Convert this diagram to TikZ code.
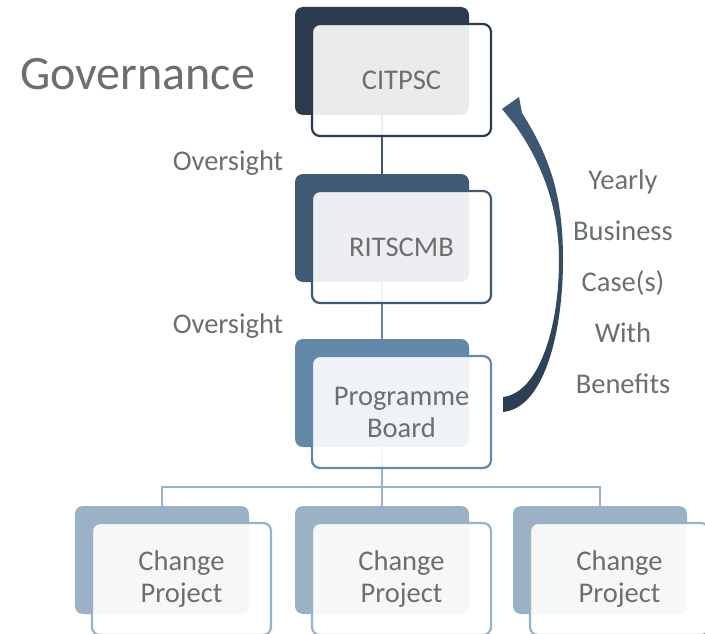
\documentclass[tikz,border=0pt]{standalone}
\usepackage{fontspec}
\setmainfont{Carlito}
\usetikzlibrary{backgrounds}
\definecolor{citpscBlue}{HTML}{2A3B4C}
\definecolor{ritsBlue}{HTML}{405A74}
\definecolor{progBlue}{HTML}{6488AA}
\definecolor{changeBlue}{HTML}{9BB1C6}
\definecolor{textGray}{HTML}{6E6E6E}
\definecolor{arrowBlue}{HTML}{2C3E51}
\definecolor{arrowTop}{HTML}{3F5B78}

\begin{document}
\begin{tikzpicture}
[x=1pt,y=-1pt,%
  backDecorate/.style={rectangle,rounded corners=8pt,minimum width=174pt,minimum height=108pt,inner sep=0pt,fill=#1},%
  frontDecorate/.style={rectangle,rounded corners=8pt,minimum width=179pt,minimum height=112pt,inner sep=0pt,draw=#1,line width=2.2pt,fill=white,fill opacity=0.9,text opacity=1,text=textGray,align=center,font=\fontsize{28.5}{32}\selectfont},%
  lineDecorate/.style={-,line width=2pt,draw=#1},%
  labelDecorate/.style={text=textGray,inner sep=0pt,font=\fontsize{28.5}{32}\selectfont}]
\useasboundingbox (0,0) rectangle (705,634);
%% governance chain
\foreach \name/\y/\col/\txt in {
  citpsc/61/citpscBlue/CITPSC, rits/228/ritsBlue/RITSCMB,
  prog/393/progBlue/{Programme\\Board}}
{
  \node[backDecorate=\col] (\name-back) at (382,\y) {};
  \node[frontDecorate=\col] (\name) at ([shift={(19.5,19)}]\name-back.center) {\txt};
}
%% change projects
\foreach \i/\x in {a/162, b/382, c/600}
{
  \node[backDecorate=changeBlue] (change-back-\i) at (\x,560) {};
  \node[frontDecorate=changeBlue] (change-\i) at ([shift={(19.5,19)}]change-back-\i.center) {Change\\Project};
}
%% connectors
\begin{scope}[on background layer]
\draw[lineDecorate=ritsBlue] (citpsc-back.south) -- (rits-back.north);
\draw[lineDecorate=progBlue] (rits-back.south) -- (prog-back.north);
\draw[lineDecorate=changeBlue] (prog-back.south) -- (change-back-b.north);
\draw[lineDecorate=changeBlue] (prog-back.south) ++(0,40) -| (change-back-a.north);
\draw[lineDecorate=changeBlue] (prog-back.south) ++(0,40) -| (change-back-c.north);
\end{scope}
%% labels
\node[labelDecorate,anchor=base west,font=\fontsize{48}{56}\selectfont] (governance) at (20,89) {Governance};
\node[labelDecorate,anchor=base] (oversight-top) at (228,171) {Oversight};
\node[labelDecorate,anchor=base] (oversight-low) at (228,333) {Oversight};
\node[labelDecorate,anchor=base,align=center,font=\fontsize{28.5}{51}\selectfont] (yearly) at (623,393)
  {Yearly\\Business\\Case(s)\\With\\Benefits};
%% yearly business case arrow
\shade[top color=arrowTop,bottom color=arrowBlue]
  (503,412) .. controls (545,408) and (563,330) .. (563,260)
  .. controls (563,200) and (552,160) .. (522,113)
  -- (519,97) -- (502,109) -- (515,125)
  .. controls (540,160) and (559,205) .. (559,260)
  .. controls (559,330) and (538,393) .. (503,397) -- cycle;
\end{tikzpicture}
\end{document}
